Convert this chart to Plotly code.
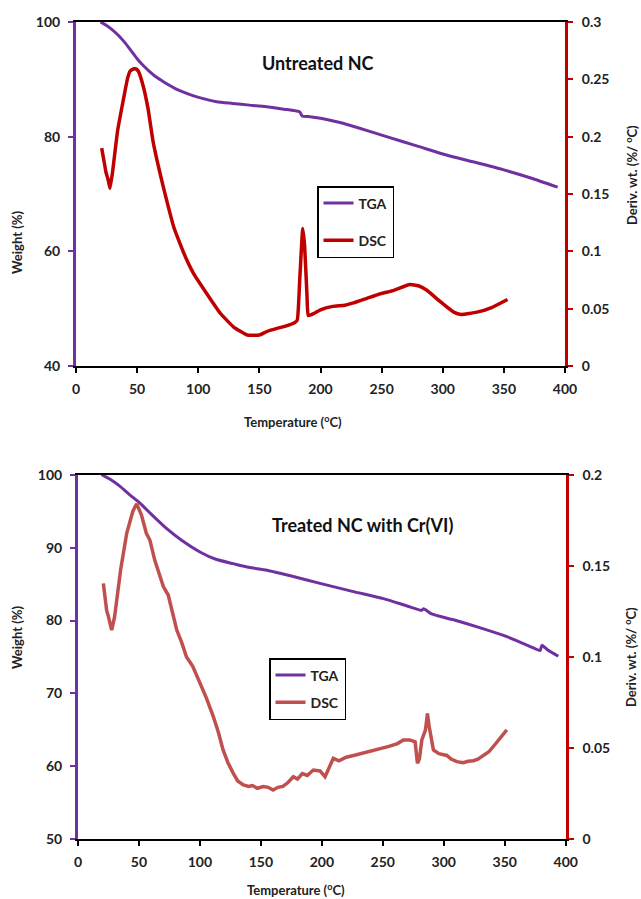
import plotly.graph_objects as go

W, H = 641, 899

# ---------------- Data: Untreated NC ----------------
tga1_T = [20, 25, 30, 35, 40, 45, 50, 55, 60, 65, 70, 76, 82, 90, 101, 115, 128, 142, 156, 170, 183, 185, 190, 200, 215, 230, 254, 280, 303, 325, 350, 372, 394]
tga1_W = [100, 99.4, 98.6, 97.6, 96.4, 95.0, 93.6, 92.4, 91.4, 90.5, 89.8, 89.0, 88.3, 87.6, 86.8, 86.1, 85.8, 85.5, 85.2, 84.8, 84.3, 83.6, 83.5, 83.2, 82.5, 81.6, 80.0, 78.3, 76.8, 75.6, 74.2, 72.8, 71.2]

dsc1_T = [21, 23.7, 24.5, 26.4, 27.8, 30, 34, 38.7, 42, 44.2, 46.9, 49, 51, 55, 59, 63, 67, 71, 75, 80, 85, 90, 96, 107, 118, 129, 140, 150, 156, 165, 172, 179, 181, 183, 185.5, 187, 189, 190, 195, 200, 210, 220, 227, 238, 249, 260, 273, 280, 287, 297, 309, 315, 328, 340, 353]
dsc1_V = [0.190, 0.174, 0.169, 0.162, 0.155, 0.170, 0.205, 0.232, 0.250, 0.257, 0.259, 0.259, 0.257, 0.244, 0.224, 0.196, 0.176, 0.158, 0.141, 0.121, 0.107, 0.094, 0.081, 0.063, 0.046, 0.034, 0.027, 0.027, 0.030, 0.033, 0.035, 0.038, 0.040, 0.075, 0.120, 0.105, 0.060, 0.044, 0.046, 0.049, 0.052, 0.053, 0.055, 0.059, 0.063, 0.066, 0.071, 0.070, 0.066, 0.057, 0.047, 0.045, 0.047, 0.051, 0.058]

# ---------------- Data: Treated NC with Cr(VI) ----------------
tga2_T = [19.4, 27, 34.5, 42, 50.8, 60, 72.8, 85, 100, 113, 127.3, 140, 155, 175, 198.5, 225, 250.5, 270, 282, 283.5, 290, 308, 330, 351.7, 370, 379, 380.5, 385, 394]
tga2_W = [100, 99.3, 98.4, 97.3, 96.1, 94.6, 92.6, 91.0, 89.4, 88.4, 87.8, 87.3, 86.9, 86.1, 85.1, 84.0, 83.0, 82.0, 81.4, 81.6, 80.9, 80.1, 79.0, 77.8, 76.5, 75.9, 76.6, 76.0, 75.1]

dsc2_T = [20.8, 22.5, 23.5, 25, 27.6, 30, 35, 40, 45, 48.1, 52, 56, 59, 63, 67, 70, 74, 78, 81, 85, 89, 94, 100, 105, 111, 115, 119, 123, 127.4, 131, 135.6, 140, 143, 147, 152, 156, 160, 164, 168, 172, 176.6, 180, 184, 188, 193, 198.5, 202.6, 206, 209.4, 214, 220, 226, 232, 240, 247.7, 255, 262, 266.9, 272, 276.5, 278.4, 280, 282, 285, 286.6, 288, 291.5, 296, 302.5, 306, 310.7, 316, 320, 324.3, 328, 332.5, 337, 342, 347, 351.7]
dsc2_V = [0.1404, 0.132, 0.1256, 0.122, 0.1148, 0.122, 0.148, 0.168, 0.180, 0.184, 0.178, 0.168, 0.164, 0.153, 0.145, 0.1386, 0.134, 0.124, 0.1148, 0.108, 0.100, 0.095, 0.0856, 0.078, 0.0673, 0.059, 0.049, 0.042, 0.0362, 0.032, 0.0298, 0.029, 0.0295, 0.028, 0.0289, 0.0285, 0.027, 0.0285, 0.029, 0.031, 0.0343, 0.033, 0.036, 0.035, 0.038, 0.0375, 0.0343, 0.040, 0.0444, 0.043, 0.045, 0.046, 0.047, 0.0485, 0.050, 0.051, 0.0525, 0.0545, 0.0545, 0.0535, 0.0417, 0.044, 0.0545, 0.060, 0.069, 0.062, 0.049, 0.047, 0.046, 0.044, 0.0426, 0.042, 0.0428, 0.0431, 0.044, 0.046, 0.048, 0.052, 0.056, 0.060]

x_ticks = [0, 50, 100, 150, 200, 250, 300, 350, 400]

PURPLE = "#7030A0"
RED = "#C00000"
RED2 = "#C0504D"
FONT = "Lato"

fig = go.Figure()

fig.add_trace(go.Scatter(x=tga1_T, y=tga1_W, mode="lines", name="TGA",
                         line=dict(color=PURPLE, width=3, shape="spline", smoothing=0.6),
                         xaxis="x", yaxis="y", legend="legend", legendgroup="a"))
fig.add_trace(go.Scatter(x=dsc1_T, y=dsc1_V, mode="lines", name="DSC",
                         line=dict(color=RED, width=3.5, shape="spline", smoothing=0.4),
                         xaxis="x", yaxis="y2", legend="legend", legendgroup="b"))
fig.add_trace(go.Scatter(x=tga2_T, y=tga2_W, mode="lines", name="TGA",
                         line=dict(color=PURPLE, width=3, shape="spline", smoothing=0.6),
                         xaxis="x2", yaxis="y3", legend="legend2", legendgroup="c"))
fig.add_trace(go.Scatter(x=dsc2_T, y=dsc2_V, mode="lines", name="DSC", line=dict(color=RED2, width=3.5),
                         xaxis="x2", yaxis="y4", legend="legend2", legendgroup="d"))

def px_x(p):
    return p / W

def px_y(p):
    return 1 - p / H

tick_font = dict(family=FONT, size=14, color="#222222", weight="bold")

xax = dict(range=[0, 400], tickvals=x_ticks, showline=True, linecolor="black", linewidth=2, mirror=True,
           ticks="outside", ticklen=5, tickcolor="black", tickwidth=2, showgrid=False, zeroline=False,
           tickfont=tick_font, automargin=False, ticklabelstandoff=4)
yl = dict(showline=True, linecolor=PURPLE, linewidth=3, ticks="outside", ticklen=5, tickcolor=PURPLE,
          tickwidth=2, showgrid=False, zeroline=False, tickfont=tick_font, automargin=False, ticklabelstandoff=5)
yr = dict(showline=True, linecolor=RED, linewidth=3, ticks="outside", ticklen=5, tickcolor=RED,
          tickwidth=2, showgrid=False, zeroline=False, tickfont=tick_font, side="right", automargin=False,
          ticklabelstandoff=6)

top_dom = [px_y(366), px_y(22)]
bot_dom = [px_y(839.3), px_y(474.7)]

fig.update_layout(
    width=W, height=H, margin=dict(l=0, r=0, t=0, b=0, autoexpand=False),
    paper_bgcolor="white", plot_bgcolor="white",
    xaxis=dict(xax, domain=[px_x(76), px_x(565)], anchor="y"),
    yaxis=dict(yl, domain=top_dom, range=[40, 100], tickvals=[40, 60, 80, 100], anchor="x"),
    yaxis2=dict(yr, range=[0, 0.3], tickvals=[0, 0.05, 0.1, 0.15, 0.2, 0.25, 0.3],
                ticktext=["0", "0.05", "0.1", "0.15", "0.2", "0.25", "0.3"], overlaying="y", anchor="x"),
    xaxis2=dict(xax, domain=[px_x(78), px_x(565.7)], anchor="y3"),
    yaxis3=dict(yl, domain=bot_dom, range=[50, 100], tickvals=[50, 60, 70, 80, 90, 100], anchor="x2"),
    yaxis4=dict(yr, range=[0, 0.2], tickvals=[0, 0.05, 0.1, 0.15, 0.2],
                ticktext=["0", "0.05", "0.1", "0.15", "0.2"], overlaying="y3", anchor="x2"),
    legend=dict(x=px_x(317), y=px_y(186), xanchor="left", yanchor="top", bordercolor="black", borderwidth=1.5,
                bgcolor="white", font=dict(family=FONT, size=14, color="#222222", weight="bold"),
                tracegroupgap=16, itemwidth=30),
    legend2=dict(x=px_x(269), y=px_y(658), xanchor="left", yanchor="top", bordercolor="black", borderwidth=1.5,
                 bgcolor="white", font=dict(family=FONT, size=14, color="#222222", weight="bold"),
                 tracegroupgap=6, itemwidth=30),
    showlegend=True,
)

ann_font = dict(family=FONT, size=13, color="#222222", weight="bold")
annotations = [
    dict(text="Untreated NC", x=px_x(318), y=px_y(63), font=dict(family=FONT, size=18, color="#111111", weight="bold")),
    dict(text="Treated NC with Cr(VI)", x=px_x(362), y=px_y(525), font=dict(family=FONT, size=18, color="#111111", weight="bold")),
    dict(text="Temperature (<sup>o</sup>C)", x=px_x(293), y=px_y(422), font=ann_font),
    dict(text="Temperature (<sup>o</sup>C)", x=px_x(296), y=px_y(889), font=ann_font),
    dict(text="Weight (%)", x=px_x(17), y=px_y(243), textangle=-90, font=ann_font),
    dict(text="Weight (%)", x=px_x(17), y=px_y(638), textangle=-90, font=ann_font),
    dict(text="Deriv. wt. (%/ <sup>o</sup>C)", x=px_x(631), y=px_y(175), textangle=-90, font=ann_font),
    dict(text="Deriv. wt. (%/ <sup>o</sup>C)", x=px_x(630), y=px_y(657), textangle=-90, font=ann_font),
]
for a in annotations:
    a.update(xref="paper", yref="paper", showarrow=False, xanchor="center", yanchor="middle")
fig.update_layout(annotations=annotations)

fig.write_html("out.html", config={"displayModeBar": False},
               post_script="document.body.style.margin='0';document.body.style.overflow='hidden';")
